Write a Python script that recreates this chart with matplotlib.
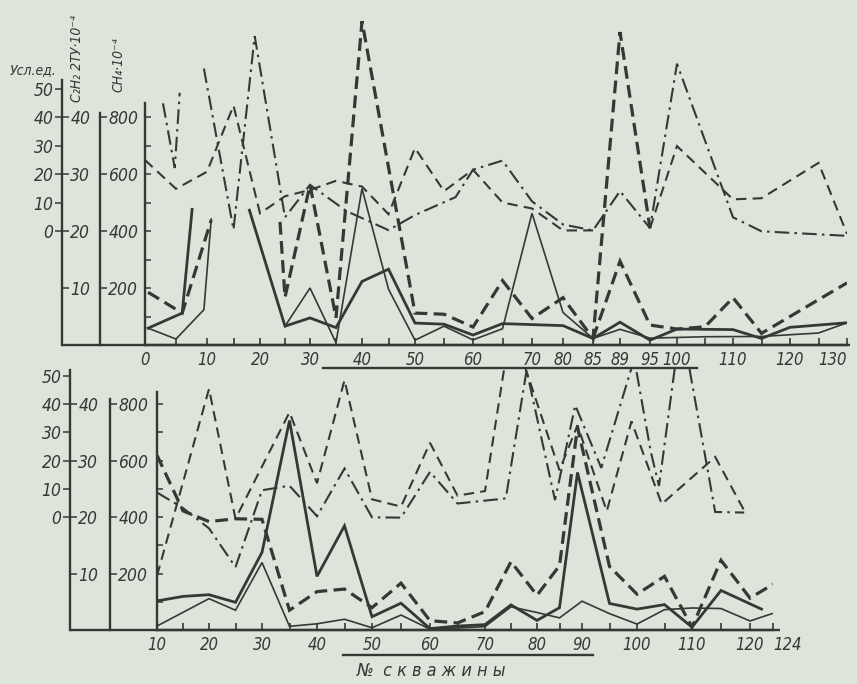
"""Два профиля по скважинам: усл. ед., C2H2 и CH4 (значения сняты со скана).

Все ряды записаны в единицах шкалы CH4 (x10^-4); шкалы "Усл.ед." и C2H2
строятся от неё через secondary_yaxis.
"""
import numpy as np
import matplotlib
matplotlib.use("Agg")
import matplotlib.pyplot as plt
from matplotlib.lines import Line2D

nan = np.nan

# ---------------------------------------------------------------------------
# Data: upper profile (wells 0-130)
# ---------------------------------------------------------------------------
top_wells = [0, 10, 20, 30, 40, 50, 60, 70, 80, 85, 89, 95, 100, 110, 120, 130]
top_minor = [5, 15, 25, 35, 45, 55, 65, 105, 115, 125]

top_dashdot_x = [2.9, 4.8, 5.6, 8, 9.5, 15, 19, 25, 30, 37, 45, 50, 57, 60, 65,
                 70, 80, 85, 89, 95, 100, 110, 115, 130]
top_dashdot_y = [848, 621, 885, nan, 970, 405, 1084, 448, 562, 470, 403, 456, 519,
                 615, 647, 504, 423, 402, 540, 410, 987, 448, 399, 383]

top_dashed_x = [0, 5, 10, 15, 20, 25, 30, 35, 40, 45, 50, 55, 60, 65, 70, 80, 85,
                89, 95, 100, 110, 115, 125, 130]
top_dashed_y = [649, 548, 608, 840, 462, 522, 544, 576, 556, 459, 691, 540, 615,
                500, 479, 402, 402, nan, 410, 698, 511, 515, 639, 390]

top_heavy_x = [0.5, 6, 10.8, 15, 24, 25, 30, 35, 40, 50, 55, 60, 65, 70, 80, 85,
               89, 95]
top_heavy_y = [185, 112, 439, nan, 432, 167, 562, 96, 1136, 112, 108, 63, 226, 93,
               166, 23, 1098, 410]

top_heavy2_x = [85, 89, 95, 100, 105, 110, 115, 130]
top_heavy2_y = [23, 294, 70, 56, 64, 166, 41, 218]

top_thick_x = [0.5, 6, 7.6, 12, 18, 25, 30, 35, 40, 45, 50, 55, 60, 65, 80, 85,
               89, 95, 100, 110, 115, 120, 130]
top_thick_y = [59, 112, 476, nan, 473, 66, 95, 61, 223, 266, 77, 73, 35, 75, 68, 23,
               80, 17, 56, 54, 23, 62, 78]

top_thin_x = [0.5, 5, 9.5, 10.8, 18, 25, 30, 35, 40, 45, 50, 55, 60, 65, 70, 80, 85,
              89, 95, 105, 115, 125, 130]
top_thin_y = [59, 21, 124, 442, nan, 66, 200, 8, 549, 196, 17, 66, 18, 57, 462, 114,
              23, 55, 24, 29, 30, 42, 78]

# ---------------------------------------------------------------------------
# Data: lower profile (wells 10-124)
# ---------------------------------------------------------------------------
bot_wells = [10, 20, 30, 40, 50, 60, 70, 80, 90, 100, 110, 120, 124]
bot_minor = [15, 25, 35, 45, 55, 65, 75, 85, 95, 105, 115]

bot_dashdot_x = [10, 15, 20, 25, 30, 35, 40, 45, 50, 55, 60, 65, 74, 78, 84, 88.5,
                 93.5, 99.5, 102.5, 104, 108, 114, 119]
bot_dashdot_y = [487, 432, 360, 223, 495, 511, 403, 572, 399, 398, 560, 448, 466,
                 920, 460, 796, 574, 960, 632, 510, 1092, 418, 416]

bot_dashed_x = [10, 20, 25, 35, 40, 45, 50, 55, 60, 65, 70, 75, 85, 89, 94.5, 99,
                104.5, 114, 119]
bot_dashed_y = [192, 854, 394, 771, 520, 885, 463, 437, 663, 476, 492, 1080, 566,
                725, 421, 739, 446, 613, 423]

bot_heavy_x = [10, 15, 20, 25, 30, 35, 40, 45, 50, 55, 60, 65, 70, 75, 80, 85, 89,
               95, 100, 105, 110, 115, 120, 124]
bot_heavy_y = [619, 422, 384, 394, 392, 70, 136, 145, 79, 166, 33, 25, 65, 242, 123,
               228, 718, 225, 127, 190, 10, 247, 113, 162]

bot_thick_x = [10, 15, 20, 25, 30, 35, 40, 45, 50, 55, 60, 65, 70, 75, 80, 85, 89,
               95, 100, 105, 110, 115, 122]
bot_thick_y = [103, 119, 125, 98, 275, 742, 190, 369, 47, 95, 5, 14, 19, 89, 34, 79,
               558, 94, 74, 90, 10, 140, 74]

bot_thin_x = [10, 20, 25, 30, 35, 40, 45, 50, 55, 60, 65, 70, 75, 80, 85, 90, 95,
              100, 105, 110, 115, 120, 124]
bot_thin_y = [14, 111, 70, 239, 13, 22, 38, 8, 53, 3, 7, 12, 82, 62, 43, 102, 58, 21,
              72, 78, 76, 32, 59]

usl_ticks = [0, 10, 20, 30, 40, 50]
c2h2_ticks = [10, 20, 30, 40]
ch4_ticks = [200, 400, 600, 800]

# ---------------------------------------------------------------------------
# Style / layout
# ---------------------------------------------------------------------------
PAPER = "#dde4da"
INK = "#343936"

STYLE = {
    "heavy":   dict(lw=2.3, dashes=(4, 2)),
    "dashed":  dict(lw=1.5, dashes=(5, 3)),
    "dashdot": dict(lw=1.5, dashes=(7, 2.5, 1.2, 2.5)),
    "thick":   dict(lw=2.0),
    "thin":    dict(lw=1.2),
}

# spacing of the labelled wells along each profile, as drawn on the sheet
top_dist = [0, 62, 115, 165, 217, 270, 328, 387, 418, 448, 475, 505, 532, 588, 645, 702]
bot_dist = [0, 52, 105, 160, 215, 273, 328, 380, 425, 480, 535, 593, 616]

plt.rcParams["font.family"] = "DejaVu Sans"
plt.rcParams["font.style"] = "italic"
plt.rcParams["font.stretch"] = "condensed"

W, H = 857, 684


def fig_rect(left, right, top, bottom):
    return [left / W, 1 - bottom / H, (right - left) / W, (bottom - top) / H]


def draw_panel(ax, wells, dist, minor, series, ytop, usl_x, ch4_x,
               usl_top, ch4_top, main_top, base_right):
    fwd = lambda w: np.interp(w, wells, dist)
    inv = lambda d: np.interp(d, dist, wells)
    ax.set_xscale("function", functions=(fwd, inv))
    ax.set_xlim(wells[0], wells[-1])
    ax.set_ylim(0, ytop)
    ax.set_facecolor("none")

    for x, y, kind in series:
        ax.plot(x, y, color=INK, solid_joinstyle="miter",
                dash_joinstyle="miter", **STYLE[kind])

    ax.spines[["top", "right"]].set_visible(False)
    for s in ("left", "bottom"):
        ax.spines[s].set_color(INK)
        ax.spines[s].set_linewidth(1.7)
    ax.spines["left"].set_bounds(0, main_top)
    # baseline runs on to the outer scale line
    ax.plot([usl_x, base_right], [0, 0], transform=ax.transAxes,
            clip_on=False, color=INK, lw=1.7, solid_capstyle="butt")

    ax.set_xticks(wells)
    ax.set_xticklabels([str(w) for w in wells])
    ax.set_xticks(minor, minor=True)
    ax.tick_params(axis="x", which="both", direction="in", length=5,
                   width=1.2, color=INK, labelsize=12, labelcolor=INK, pad=4)
    ax.set_yticks(np.arange(100, 900, 100))
    ax.tick_params(axis="y", direction="in", length=4, width=1.1,
                   color=INK, labelleft=False)

    usl = ax.secondary_yaxis(usl_x, functions=(lambda v: (v - 400) / 10,
                                               lambda u: u * 10 + 400))
    usl.set_yticks(usl_ticks)
    usl.spines["left"].set_bounds(-40, usl_top)

    c2 = ax.secondary_yaxis(usl_x, functions=(lambda v: v / 20, lambda c: c * 20))
    c2.set_alignment("right")
    c2.set_yticks(c2h2_ticks)
    c2.spines["right"].set_visible(False)

    ch4 = ax.secondary_yaxis(ch4_x, functions=(lambda v: v, lambda v: v))
    ch4.set_alignment("right")
    ch4.set_yticks(ch4_ticks)
    ch4.spines["right"].set_bounds(0, ch4_top)

    for sec in (usl, c2, ch4):
        sec.tick_params(axis="y", direction="out", length=5, width=1.1,
                        color=INK, labelsize=12.5, labelcolor=INK, pad=1)
        for sp in sec.spines.values():
            sp.set_color(INK)
            sp.set_linewidth(1.7)


fig = plt.figure(figsize=(W / 100, H / 100), dpi=100, facecolor=PAPER)

# upper panel: baseline at y=345 px, value scale 3.51 units per px
ax_top = fig.add_axes(fig_rect(145, 847, 5, 345))
draw_panel(
    ax_top, top_wells, top_dist, top_minor,
    [(top_dashdot_x, top_dashdot_y, "dashdot"),
     (top_dashed_x, top_dashed_y, "dashed"),
     (top_heavy_x, top_heavy_y, "heavy"),
     (top_heavy2_x, top_heavy2_y, "heavy"),
     (top_thick_x, top_thick_y, "thick"),
     (top_thin_x, top_thin_y, "thin")],
    ytop=1193, usl_x=(62 - 145) / 702, ch4_x=(100 - 145) / 702,
    usl_top=53, ch4_top=814, main_top=850, base_right=1.004,
)
ax_top.get_xticklabels()[-1].set_ha("right")

# lower panel: baseline at y=630 px, value scale 3.556 units per px
ax_bot = fig.add_axes(fig_rect(157, 773, 368, 630))
draw_panel(
    ax_bot, bot_wells, bot_dist, bot_minor,
    [(bot_dashdot_x, bot_dashdot_y, "dashdot"),
     (bot_dashed_x, bot_dashed_y, "dashed"),
     (bot_heavy_x, bot_heavy_y, "heavy"),
     (bot_thick_x, bot_thick_y, "thick"),
     (bot_thin_x, bot_thin_y, "thin")],
    ytop=928, usl_x=(70 - 157) / 616, ch4_x=(110 - 157) / 616,
    usl_top=52, ch4_top=818, main_top=843, base_right=1.012,
)
ax_bot.get_xticklabels()[-1].set_ha("left")

# scale captions
fig.text(33 / W, 1 - 70 / H, "Усл.ед.", fontsize=10, color=INK,
         ha="center", va="center")
fig.text(77 / W, 1 - 58 / H, "C₂H₂ 2ТУ·10⁻⁴", fontsize=10, color=INK,
         rotation=90, ha="center", va="center")
fig.text(118 / W, 1 - 65 / H, "CH₄·10⁻⁴", fontsize=10, color=INK,
         rotation=90, ha="center", va="center")

# profile underlines and caption
fig.add_artist(Line2D([323 / W, 697 / W], [1 - 368 / H, 1 - 368 / H],
                      color=INK, lw=1.7))
fig.add_artist(Line2D([343 / W, 593 / W], [1 - 655 / H, 1 - 655 / H],
                      color=INK, lw=1.7))
fig.text(432 / W, 1 - 671 / H, "№  с к в а ж и н ы", fontsize=13, color=INK,
         ha="center", va="center")

fig.savefig("out.png", dpi=100, facecolor=PAPER)
